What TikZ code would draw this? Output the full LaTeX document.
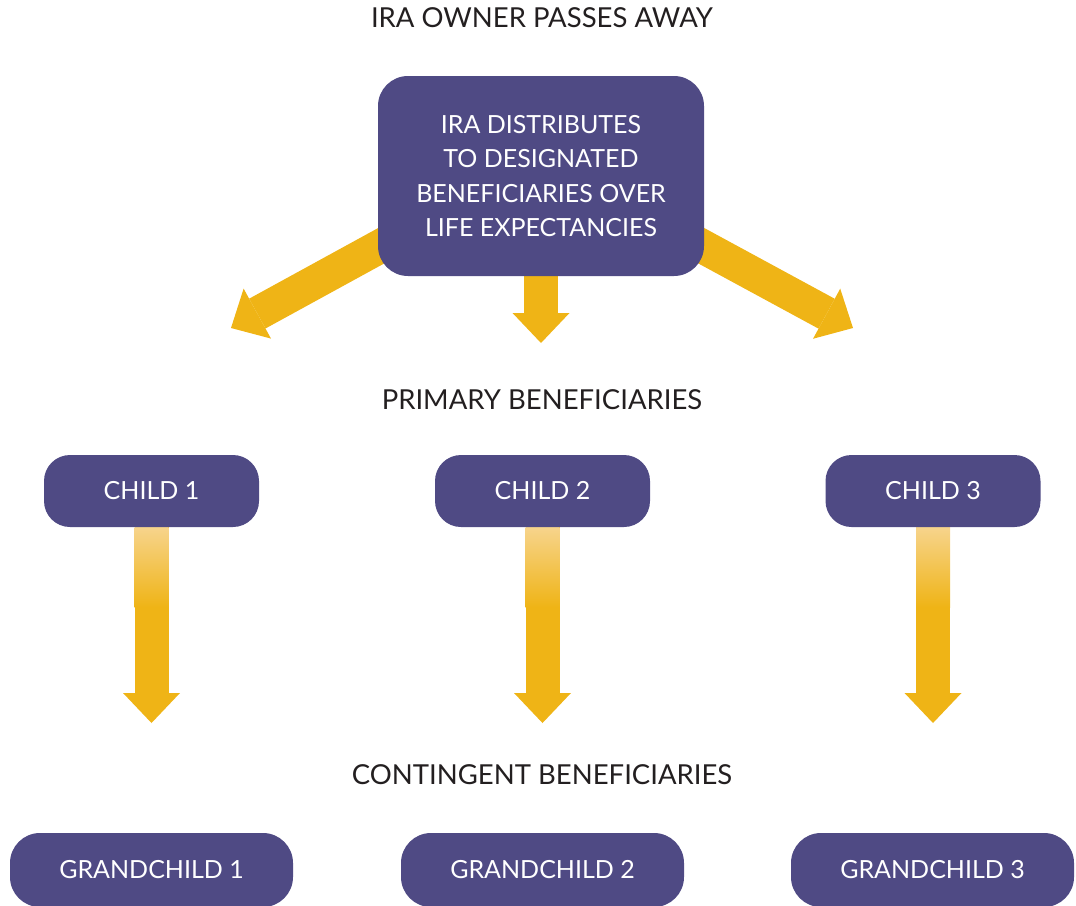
\documentclass[tikz,border=0pt]{standalone}
\usepackage{fontspec}
\setmainfont{Lato}
\usetikzlibrary{arrows.meta,calc}
\pgfdeclarelayer{background}
\pgfsetlayers{background,main}
\definecolor{boxpurple}{RGB}{79,74,132}
\definecolor{arrowgold}{RGB}{239,180,22}
\definecolor{arrowlight}{RGB}{247,212,140}
\definecolor{labelgray}{RGB}{35,31,32}
\tikzset{
  benbox/.style={rounded corners=26pt, fill=boxpurple, text=white, minimum width=215pt,
    minimum height=72pt, inner sep=0pt, font=\fontsize{25}{30}\selectfont},
  gcbox/.style={benbox, minimum width=283pt, minimum height=74pt, rounded corners=30pt},
  steplabel/.style={text=labelgray, font=\fontsize{27.5}{32}\selectfont},
  fatarrow/.style={draw=arrowgold, line width=34pt,
    -{Triangle[width=57pt,length=30pt,line width=0pt,fill=arrowgold]}},
}
\begin{document}
\begin{tikzpicture}[x=1pt,y=-1pt]
  \useasboundingbox (0,0) rectangle (1076,905);
  % titulos
  \node[steplabel] (owner) at (542,18) {IRA OWNER PASSES AWAY};
  \node[steplabel] (primary) at (542,400) {PRIMARY BENEFICIARIES};
  \node[steplabel] (contingent) at (542,775) {CONTINGENT BENEFICIARIES};

  % caja principal
  \node[benbox, minimum width=326pt, minimum height=200pt, rounded corners=30pt,
        align=center, font=\fontsize{25}{34.4}\selectfont] (ira) at (541,176)
    {IRA DISTRIBUTES\\TO DESIGNATED\\BENEFICIARIES OVER\\LIFE EXPECTANCIES};

  % hijos
  \node[benbox] (child1) at (151.5,491) {CHILD 1};
  \node[benbox] (child2) at (542.5,491) {CHILD 2};
  \node[benbox] (child3) at (933,491) {CHILD 3};

  % nietos
  \node[gcbox] (grand1) at (151.5,870) {GRANDCHILD 1};
  \node[gcbox] (grand2) at (542.5,870) {GRANDCHILD 2};
  \node[gcbox] (grand3) at (932.5,870) {GRANDCHILD 3};

  % puntas
  \coordinate (leftstart) at (430,219);
  \coordinate (lefttip) at (231,328);
  \coordinate (rightstart) at (652,219);
  \coordinate (righttip) at (853,328);
  \coordinate (midtip) at (541,343);
  \coordinate (tip1) at (151.5,723);
  \coordinate (tip2) at (542.5,723);
  \coordinate (tip3) at (933,723);

  %%%% FLECHAS
  \begin{pgfonlayer}{background}
    \draw[fatarrow] (leftstart) -- (lefttip);
    \draw[fatarrow] (rightstart) -- (righttip);
    \draw[fatarrow] (ira.south) -- (midtip);
    \draw[fatarrow] (child1.south) -- (tip1);
    \draw[fatarrow] (child2.south) -- (tip2);
    \draw[fatarrow] (child3.south) -- (tip3);
    % degradado
    \shade[top color=arrowlight, bottom color=arrowgold]
      ($(child1.south)+(-17,0)$) rectangle ($(child1.south)+(17,80)$);
    \shade[top color=arrowlight, bottom color=arrowgold]
      ($(child2.south)+(-17,0)$) rectangle ($(child2.south)+(17,80)$);
    \shade[top color=arrowlight, bottom color=arrowgold]
      ($(child3.south)+(-17,0)$) rectangle ($(child3.south)+(17,80)$);
  \end{pgfonlayer}
\end{tikzpicture}
\end{document}
